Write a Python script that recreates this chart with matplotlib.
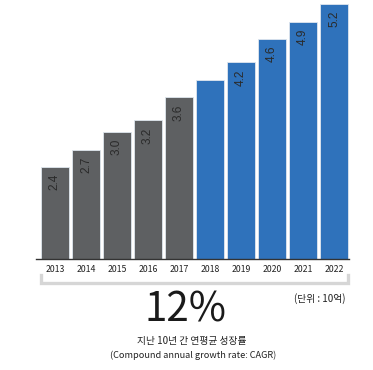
#!/usr/bin/env python3

import matplotlib
matplotlib.use("Agg")
import matplotlib.pyplot as plt
import matplotlib.transforms as mtransforms

years = ["2013", "2014", "2015", "2016", "2017", "2018", "2019", "2020", "2021", "2022"]
values = [2.4, 2.7, 3.0, 3.2, 3.6, 3.9, 4.2, 4.6, 4.9, 5.2]
value_labels = ["2.4", "2.7", "3.0", "3.2", "3.6", "", "4.2", "4.6", "4.9", "5.2"]
n_actual = 5  # first five years are actual (gray), rest forecast (blue)

GRAY = "#5e6062"
BLUE = "#2f72bb"
KR = ["Noto Sans CJK KR", "DejaVu Sans"]

plt.rcParams["font.family"] = KR

fig = plt.figure(figsize=(3.73, 3.70), dpi=100)
ax = fig.add_axes([0.0965, 0.30, 0.8392, 0.70])

x = list(range(len(years)))
colors = [GRAY if i < n_actual else BLUE for i in x]
ax.bar(x, values, width=0.9, color=colors, edgecolor="#dfe6ee", linewidth=0.6, zorder=2)

for xi, v, lab in zip(x, values, value_labels):
    if lab:
        ax.annotate(lab, (xi, v), xytext=(0, -5), textcoords="offset points",
                    rotation=90, ha="center", va="top", fontsize=8.5,
                    color="#2a2a2a", family=["Liberation Sans"])

ax.set_xlim(-0.61, 9.48)
ax.set_ylim(0.82, 5.27)
ax.set_xticks(x)
ax.set_xticklabels(years, fontsize=6.3, color="#222222")
ax.tick_params(axis="x", length=0, pad=4)
ax.set_yticks([])
for s in ["top", "left", "right"]:
    ax.spines[s].set_visible(False)
ax.spines["bottom"].set_color("#333333")
ax.spines["bottom"].set_linewidth(1.0)

# bracket under the years
trans = mtransforms.blended_transform_factory(ax.transData, fig.transFigure)
bx0, bx1 = -0.45, 9.45
ax.plot([bx0, bx0, bx1, bx1], [1 - 275 / 370, 1 - 283 / 370, 1 - 283 / 370, 1 - 275 / 370],
        transform=trans, color="#d6d6d6", linewidth=2.4, clip_on=False,
        solid_joinstyle="miter")

fig.text(186 / 373, 1 - 310 / 370, "12%", ha="center", va="center",
         fontsize=29, color="#1a1a1a", fontweight="light")
fig.text(320 / 373, 1 - 299 / 370, "(단위 : 10억)", ha="center", va="center",
         fontsize=7, color="#222222")
fig.text(192 / 373, 1 - 341 / 370, "지난 10년 간 연평균 성장률", ha="center", va="center",
         fontsize=7, color="#222222")
fig.text(193 / 373, 1 - 355 / 370, "(Compound annual growth rate: CAGR)", ha="center",
         va="center", fontsize=6.6, color="#222222")

fig.savefig("out.png", dpi=100)
